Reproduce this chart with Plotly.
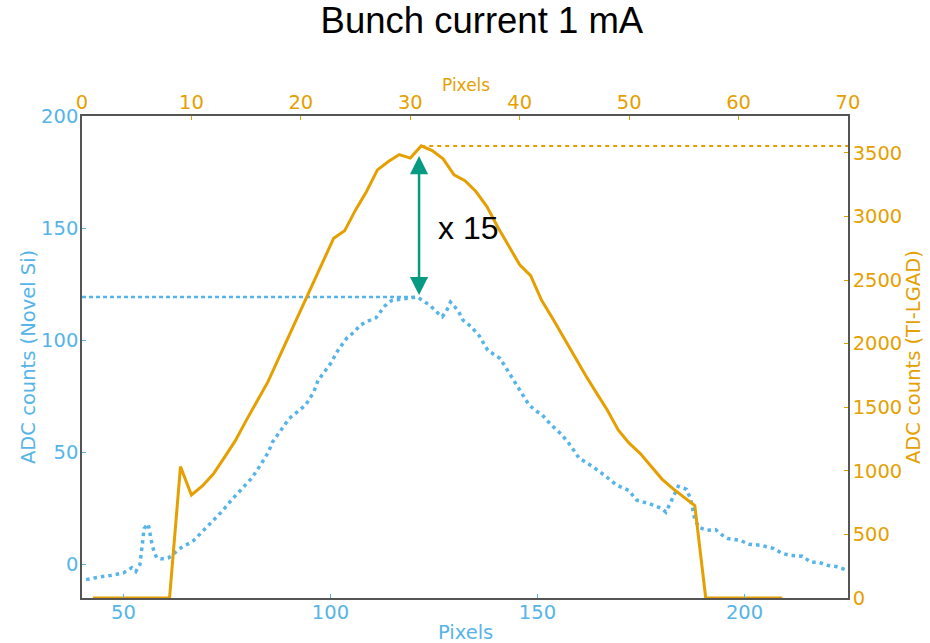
import plotly.graph_objects as go

# ---- data ----
# Orange: TI-LGAD, top x axis (Pixels 0-70), right y axis
lgad_px = list(range(1, 65))
lgad_adc = [0, 0, 0, 0, 0, 0, 0, 0,
            1033, 810, 881, 975, 1104, 1235, 1395, 1544, 1701, 1890, 2080, 2270,
            2460, 2645, 2829, 2887, 3052, 3196, 3366, 3432, 3487, 3459, 3555, 3518,
            3453, 3327, 3282, 3196, 3078, 2916, 2763, 2620, 2535, 2340, 2200, 2050,
            1900, 1754, 1615, 1479, 1321, 1217, 1138, 1035, 935, 860, 795, 726,
            0, 0, 0, 0, 0, 0, 0, 0]

# Blue: Novel Si, bottom x axis (Pixels 40-225), left y axis
si_px = [41, 42, 44, 47, 50, 52, 53, 54, 55, 56, 57, 58, 59, 60, 61, 62, 64, 66, 67, 69,
         71, 73, 74, 76, 77, 78, 80, 81, 83, 85, 86, 88, 90, 92, 94, 96, 97, 99, 100, 102,
         104, 106, 107, 109, 111, 113, 114, 115, 118, 121, 122, 124, 126, 127, 128, 129, 130, 131, 132, 134,
         136, 138, 141, 143, 144, 146, 148, 150, 151, 153, 156, 158, 160, 163, 166, 169, 172, 174, 177, 180,
         181, 182, 184, 186, 187, 188, 189, 191, 193, 195, 196, 199, 201, 204, 207, 209, 211, 214, 216, 218,
         220, 222, 225]
si_adc = [-6.8, -6.3, -5.7, -4.9, -3.8, -1.5, -3.2, 0.0, 16.0, 18.0, 8.0, 3.0, 2.5, 2.5, 3.0, 4.5, 7.5, 9.5, 10.7, 14.5,
          18.2, 22.0, 24.0, 28.5, 30.5, 32.0, 36.0, 38.5, 44.0, 50.0, 54.5, 60.0, 65.0, 68.0, 71.0, 77.0, 82.0, 87.0, 89.5, 96.0,
          101.0, 104.0, 106.5, 108.5, 110.0, 115.0, 116.8, 117.8, 118.6, 119.3, 118.0, 115.6, 112.0, 110.5, 113.0, 117.0, 115.0, 112.6, 109.0, 106.0,
          101.8, 95.5, 91.8, 86.0, 83.0, 77.0, 71.0, 68.0, 67.0, 62.8, 57.6, 53.0, 47.5, 44.0, 40.0, 35.5, 33.0, 28.6, 27.1, 25.0,
          23.3, 27.0, 34.8, 33.5, 29.0, 20.0, 16.5, 15.2, 15.5, 12.5, 11.5, 10.7, 9.0, 8.5, 7.1, 5.0, 4.0, 3.6, 1.0, 0.9,
          -0.4, -0.9, -2.7]

bottom_ticks = [50, 100, 150, 200]
top_ticks = [0, 10, 20, 30, 40, 50, 60, 70]
left_ticks = [0, 50, 100, 150, 200]
right_ticks = [0, 500, 1000, 1500, 2000, 2500, 3000, 3500]
ratio_label = "x 15"

BLUE = "#56B4E9"
ORANGE = "#E69F00"
GREEN = "#079a82"
FRAME = "#555555"
TICKFONT = "DejaVu Sans"
TS = 19.5

si_range = [40, 225]
px_range = [0, 70]

si_peak = max(si_adc)
si_peak_x = si_px[si_adc.index(si_peak)]
lgad_peak = max(lgad_adc)
lgad_peak_x = lgad_px[lgad_adc.index(lgad_peak)]

fig = go.Figure()

fig.add_trace(go.Scatter(x=[si_range[0], si_peak_x], y=[si_peak, si_peak], mode="lines",
                         line=dict(color=BLUE, width=2.5, dash="4px,3px"), hoverinfo="skip"))
fig.add_trace(go.Scatter(x=si_px, y=si_adc, mode="lines",
                         line=dict(color=BLUE, width=3.5, dash="3.5px,4px")))
fig.add_trace(go.Scatter(x=[lgad_peak_x, px_range[1]], y=[lgad_peak, lgad_peak], mode="lines",
                         xaxis="x2", yaxis="y2",
                         line=dict(color=ORANGE, width=2, dash="4px,4px"), hoverinfo="skip"))
fig.add_trace(go.Scatter(x=lgad_px, y=lgad_adc, mode="lines", xaxis="x2", yaxis="y2",
                         line=dict(color=ORANGE, width=3)))

axis_common = dict(showgrid=False, zeroline=False, showline=True, linecolor=FRAME,
                   linewidth=1.5, ticks="inside", ticklen=4, automargin=False)

fig.update_layout(
    width=930, height=643,
    margin=dict(l=82, r=82, t=116, b=45),
    plot_bgcolor="white", paper_bgcolor="white",
    showlegend=False,
    title=dict(text="Bunch current 1 mA", x=0.522, xref="paper", xanchor="center",
               y=0.969, yref="container", yanchor="middle",
               font=dict(family="Liberation Sans, Arial", size=36.5, color="black")),
    xaxis=dict(range=si_range, tickvals=bottom_ticks, color=BLUE, tickcolor=BLUE,
               tickfont=dict(family=TICKFONT, size=TS, color=BLUE), ticklabelstandoff=-4,
               **axis_common),
    xaxis2=dict(range=px_range, tickvals=top_ticks, overlaying="x", side="top", anchor="y",
                color=ORANGE, tickcolor=ORANGE,
                tickfont=dict(family=TICKFONT, size=TS, color=ORANGE), ticklabelstandoff=-3,
                **axis_common),
    yaxis=dict(range=[-15, 200], tickvals=left_ticks, color=BLUE, tickcolor=BLUE,
               tickfont=dict(family=TICKFONT, size=TS, color=BLUE), ticklabelstandoff=-2,
               **axis_common),
    yaxis2=dict(range=[0, 3790], tickvals=right_ticks, overlaying="y", side="right", anchor="x",
                color=ORANGE, tickcolor=ORANGE,
                tickfont=dict(family=TICKFONT, size=TS, color=ORANGE), ticklabelstandoff=-1,
                **axis_common),
)

# axis titles
fig.add_annotation(text="Pixels", xref="paper", yref="paper", x=0.5013, y=1.0643,
                   xanchor="center", yanchor="middle", showarrow=False,
                   font=dict(family=TICKFONT, size=17, color=ORANGE))
fig.add_annotation(text="Pixels", xref="paper", yref="paper", x=0.5013, y=-0.0726,
                   xanchor="center", yanchor="middle", showarrow=False,
                   font=dict(family=TICKFONT, size=TS, color=BLUE))
fig.add_annotation(text="ADC counts (Novel Si)", xref="paper", yref="paper", x=-0.0705, y=0.5,
                   xanchor="center", yanchor="middle", showarrow=False, textangle=-90,
                   font=dict(family=TICKFONT, size=TS, color=BLUE))
fig.add_annotation(text="ADC counts (TI-LGAD)", xref="paper", yref="paper", x=1.0849, y=0.5,
                   xanchor="center", yanchor="middle", showarrow=False, textangle=-90,
                   font=dict(family=TICKFONT, size=TS, color=ORANGE))

# double-headed arrow between the two peaks
fig.add_annotation(x=121.4, y=120.1, xref="x", yref="y",
                   ax=121.4, ay=182.8, axref="x", ayref="y",
                   showarrow=True, arrowhead=2, startarrowhead=2, arrowside="end+start",
                   arrowsize=1.45, startarrowsize=1.45, arrowwidth=2.5, arrowcolor=GREEN, text="")
fig.add_annotation(x=133.2, y=150, xref="x", yref="y", text=ratio_label, showarrow=False,
                   font=dict(family="Liberation Sans, Arial", size=32, color="black"))

fig.write_html("out.html", config={"displayModeBar": False},
               post_script="document.body.style.margin='0';")
